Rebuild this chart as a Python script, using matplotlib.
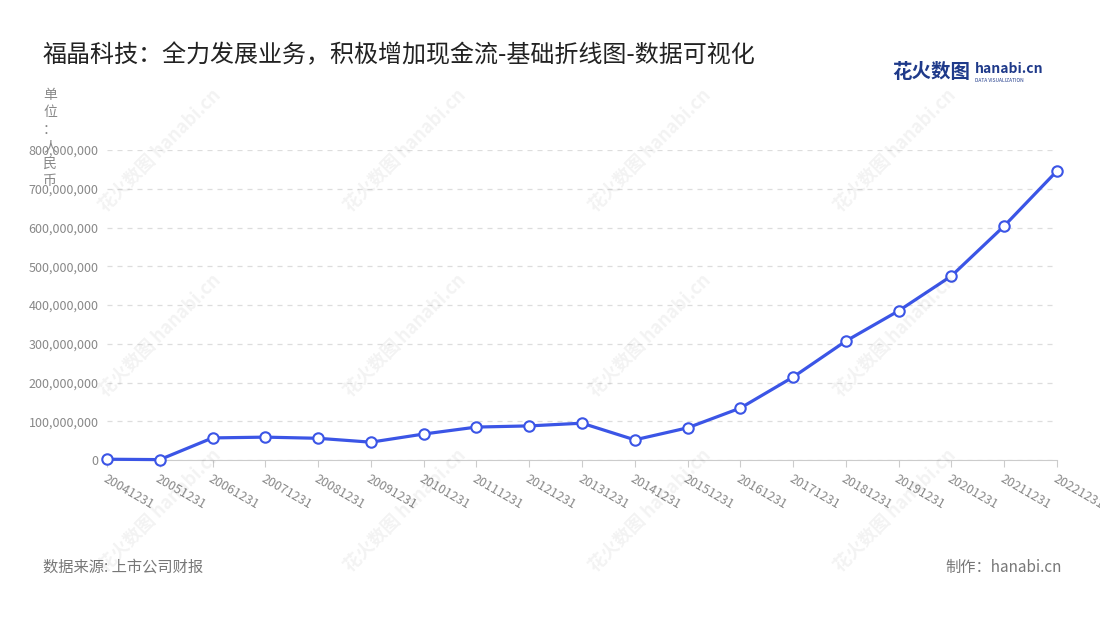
import matplotlib
matplotlib.use("Agg")
import matplotlib.pyplot as plt
from matplotlib.ticker import FuncFormatter

plt.rcParams['font.family'] = ['Noto Sans CJK SC', 'DejaVu Sans']

dates = ["20041231","20051231","20061231","20071231","20081231","20091231","20101231",
         "20111231","20121231","20131231","20141231","20151231","20161231","20171231",
         "20181231","20191231","20201231","20211231","20221231"]
values = [2e6, 1e6, 57e6, 59e6, 56e6, 46e6, 67e6, 85e6, 88e6, 95e6, 52e6, 83e6,
          134e6, 214e6, 307e6, 385e6, 475e6, 604e6, 746e6]

fig = plt.figure(figsize=(11, 6.2), dpi=100)
ax = fig.add_axes([107/1100, 1-460/620, 950/1100, 310/620])
x = list(range(len(dates)))
ax.plot(x, values, color='#3b55e6', lw=2.3, marker='o', ms=7.5,
        mfc='white', mec='#3b55e6', mew=1.5, zorder=3, clip_on=False)
ax.set_xlim(0, len(dates)-1)
ax.set_ylim(0, 800e6)
ax.set_yticks([i*100e6 for i in range(9)])
ax.yaxis.set_major_formatter(FuncFormatter(lambda v, p: f"{int(v):,}"))
ax.set_xticks(x)
ax.set_xticklabels(dates, rotation=-30, ha='left', rotation_mode='anchor')
ax.tick_params(axis='y', length=0, labelsize=9, colors='#888888', pad=6)
ax.tick_params(axis='x', length=5, color='#cccccc', labelsize=9, labelcolor='#888888', pad=4)
ax.grid(axis='y', ls=(0, (4, 4)), color='#dddddd', lw=0.9)
for s in ['top', 'right', 'left']:
    ax.spines[s].set_visible(False)
ax.spines['bottom'].set_color('#cccccc')

fig.text(43/1100, 1-55/620, "福晶科技：全力发展业务，积极增加现金流-基础折线图-数据可视化",
         fontsize=17.3, color='#222222', va='center')
fig.text(50/1100, 1-88/620, "单\n位\n：\n人\n民\n币", fontsize=10, color='#888888',
         va='top', ha='center', linespacing=1.3)
fig.text(43/1100, 1-567/620, "数据来源: 上市公司财报", fontsize=11, color='#777777', va='center')
fig.text(1062/1100, 1-567/620, "制作：hanabi.cn", fontsize=11, color='#777777', va='center', ha='right')
fig.text(892/1100, 1-72/620, "花火数图", fontsize=14, color='#1f3a8a', weight='bold', va='center')
fig.text(975/1100, 1-69/620, "hanabi.cn", fontsize=10, color='#1f3a8a', weight='bold', va='center')
fig.text(975/1100, 1-80/620, "DATA VISUALIZATION", fontsize=3.5, color='#1f3a8a', va='center')

for wx in [160, 405, 650, 895]:
    for wy in [150, 335, 510]:
        fig.text(wx/1100, 1-wy/620, "花火数图 hanabi.cn", fontsize=13, color='#000000',
                 alpha=0.05, rotation=45, ha='center', va='center', weight='bold')

fig.savefig("out.png", dpi=100)
